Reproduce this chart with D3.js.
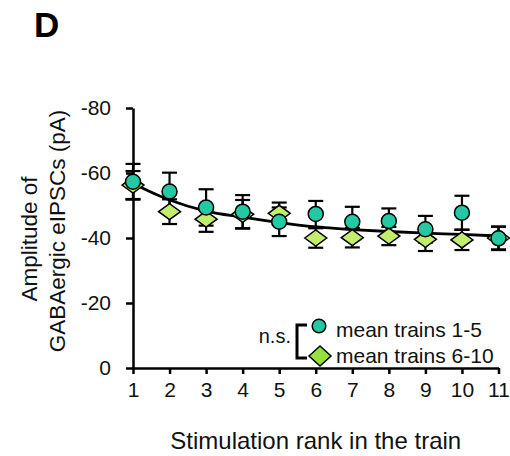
<!DOCTYPE html>
<html>
<head>
<meta charset="utf-8">
<script src="https://cdn.jsdelivr.net/npm/d3@7"></script>
<style>
  body { margin: 0; background: #fff; }
  svg { display: block; font-family: Arial, 'Liberation Sans', sans-serif; }
</style>
</head>
<body>
<div class="chart"></div>
<script>
// stimulation rank
let ranks = [1, 2, 3, 4, 5, 6, 7, 8, 9, 10, 11]
// mean trains 1-5 (circles)
let trains1to5 = [-57.3, -54.3, -49.4, -48.1, -45.0, -47.4, -45.0, -45.2, -42.7, -47.8, -39.9]
let trains1to5Err = [5.5, 5.8, 5.6, 5.1, 4.4, 4.0, 4.6, 3.9, 4.1, 5.2, 3.6]
// mean trains 6-10 (diamonds)
let trains6to10 = [-56.3, -48.1, -45.8, -47.3, -47.6, -40.0, -40.1, -40.6, -39.6, -39.4, -40.0]
let trains6to10Err = [4.3, 3.8, 3.9, 4.4, 3.3, 3.0, 3.0, 2.8, 3.6, 3.1, 3.5]
// fitted decay curve
let fitCurve = [-56.8, -51.7, -48.3, -46.4, -44.7, -43.4, -42.6, -42.0, -41.5, -41.1, -40.6]
// tick labels
let yTicks = [0, -20, -40, -60, -80]
let xTicks = ranks

let w = 510
let h = 456
let circleFill = '#22c9a2'
let diamondFill = '#c2ee6c'
let legendDiamondFill = '#96e23c'

let svg = d3.select('.chart')
  .append('svg')
  .attr('width', w)
  .attr('height', h)

let xScale = d3.scaleLinear().domain([1, 11]).range([133, 498.5])
let yScale = d3.scaleLinear().domain([0, -80]).range([368, 108])

// 坐标轴
let yAxis = d3.axisLeft(yScale)
  .tickValues(yTicks)
  .tickSize(7)
  .tickSizeOuter(0)
  .tickPadding(15)
  .tickFormat(d => String(d))
let xAxis = d3.axisBottom(xScale)
  .tickValues(xTicks)
  .tickSize(6)
  .tickSizeOuter(0)
  .tickPadding(8)
  .tickFormat(d => String(d))

svg.append('g')
  .attr('class', 'y axis')
  .attr('transform', 'translate(133, 0)')
  .call(yAxis)
svg.append('g')
  .attr('class', 'x axis')
  .attr('transform', 'translate(0, 368)')
  .call(xAxis)

svg.selectAll('.axis path, .axis line')
  .attr('stroke', '#000')
  .attr('stroke-width', 2.5)
svg.selectAll('.axis text')
  .attr('font-family', "Arial, 'Liberation Sans', sans-serif")
  .attr('font-size', '21px')
  .attr('fill', '#111')

// 误差线
let errBars = (vals, errs, cls) => {
  let g = svg.append('g').attr('class', cls)
  let cap = 7.5
  vals.forEach((v, i) => {
    let x = xScale(ranks[i])
    let y1 = yScale(v - errs[i])
    let y2 = yScale(v + errs[i])
    g.append('line').attr('x1', x).attr('x2', x).attr('y1', y1).attr('y2', y2)
    g.append('line').attr('x1', x - cap).attr('x2', x + cap).attr('y1', y1).attr('y2', y1)
    g.append('line').attr('x1', x - cap).attr('x2', x + cap).attr('y1', y2).attr('y2', y2)
  })
  g.selectAll('line').attr('stroke', '#000').attr('stroke-width', 2.2)
}
errBars(trains6to10, trains6to10Err, 'err6to10')
errBars(trains1to5, trains1to5Err, 'err1to5')

// 拟合曲线
let line = d3.line()
  .x((d, i) => xScale(ranks[i]))
  .y(d => yScale(d))
  .curve(d3.curveMonotoneX)
svg.append('path')
  .datum(fitCurve)
  .attr('d', line)
  .attr('fill', 'none')
  .attr('stroke', '#000')
  .attr('stroke-width', 2.8)

// 菱形
let diamond = (hw, hh) => `M${-hw},0L0,${-hh}L${hw},0L0,${hh}Z`
svg.selectAll('path.dia')
  .data(trains6to10)
  .enter()
  .append('path')
  .attr('class', 'dia')
  .attr('d', diamond(11, 8))
  .attr('transform', (d, i) => `translate(${xScale(ranks[i])}, ${yScale(d)})`)
  .attr('fill', diamondFill)
  .attr('stroke', '#000')
  .attr('stroke-width', 1.5)

// 圆点
svg.selectAll('circle.dot')
  .data(trains1to5)
  .enter()
  .append('circle')
  .attr('class', 'dot')
  .attr('cx', (d, i) => xScale(ranks[i]))
  .attr('cy', d => yScale(d))
  .attr('r', 7.5)
  .attr('fill', circleFill)
  .attr('stroke', '#000')
  .attr('stroke-width', 1.5)

// 图例
svg.append('circle')
  .attr('cx', 319).attr('cy', 326).attr('r', 6.8)
  .attr('fill', circleFill).attr('stroke', '#000').attr('stroke-width', 1.5)
svg.append('path')
  .attr('d', diamond(11, 10))
  .attr('transform', 'translate(320, 356)')
  .attr('fill', legendDiamondFill).attr('stroke', '#000').attr('stroke-width', 1.5)
svg.append('text')
  .attr('x', 336).attr('y', 337)
  .attr('font-size', '21px').attr('fill', '#111')
  .text('mean trains 1-5')
svg.append('text')
  .attr('x', 336).attr('y', 363)
  .attr('font-size', '21px').attr('fill', '#111')
  .text('mean trains 6-10')
svg.append('path')
  .attr('d', 'M307,325H297V358H307')
  .attr('fill', 'none').attr('stroke', '#000').attr('stroke-width', 3)
svg.append('text')
  .attr('x', 291).attr('y', 343)
  .attr('text-anchor', 'end')
  .attr('font-size', '20px').attr('fill', '#111')
  .text('n.s.')

// 标题
svg.append('text')
  .attr('x', (133 + 498.5) / 2).attr('y', 449)
  .attr('text-anchor', 'middle')
  .attr('font-size', '24px').attr('fill', '#111')
  .text('Stimulation rank in the train')
svg.append('text')
  .attr('transform', 'translate(37, 239) rotate(-90)')
  .attr('text-anchor', 'middle')
  .attr('font-size', '22.5px').attr('fill', '#111')
  .text('Amplitude of')
svg.append('text')
  .attr('transform', 'translate(65, 231) rotate(-90)')
  .attr('text-anchor', 'middle')
  .attr('font-size', '22.5px').attr('fill', '#111')
  .text('GABAergic eIPSCs (pA)')
svg.append('text')
  .attr('x', 34).attr('y', 37)
  .attr('font-size', '35px').attr('font-weight', 'bold')
  .attr('fill', '#000')
  .text('D')
</script>
</body>
</html>
